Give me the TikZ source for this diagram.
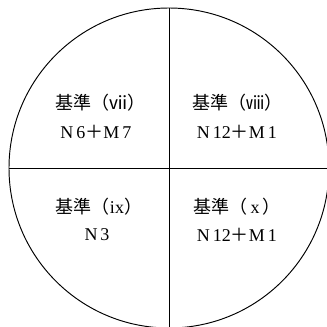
\documentclass[tikz,border=0pt]{standalone}
\usepackage{fontspec}
\setmainfont{Liberation Serif}
\newfontfamily\cjk{Noto Sans CJK JP}
\begin{document}
\begin{tikzpicture}[x=1pt,y=-1pt,
  lbl/.style={font=\fontsize{18}{21}\selectfont, inner sep=0pt, anchor=center},
  edge/.style={line width=0.95pt, draw=black}]
\useasboundingbox (0,0) rectangle (327,327);
\clip (0,0) rectangle (327,327);
\coordinate (c) at (169,168);
\coordinate (t) at (169,8);
\coordinate (b) at (169,327);
\coordinate (l) at (9,168);
\coordinate (r) at (327,168);
\draw[edge] (c) circle (160);
\draw[edge] (t) -- (b);
\draw[edge] (l) -- (r);
\node[lbl] (a1) at (100,103) {{\cjk 基準（ⅶ）}};
\node[lbl] (a2) at (96,132) {N\,6{\cjk ＋}M\,7};
\node[lbl] (b1) at (237,103) {{\cjk 基準（ⅷ）}};
\node[lbl] (b2) at (237,132) {N\,12{\cjk ＋}M\,1};
\node[lbl] (c1) at (99,207) {{\cjk 基準（}ix{\cjk ）}};
\node[lbl] (c2) at (97,235) {N\,3};
\node[lbl] (d1) at (237,207) {{\cjk 基準（}\,x\,{\cjk ）}};
\node[lbl] (d2) at (237,235) {N\,12{\cjk ＋}M\,1};
\end{tikzpicture}
\end{document}
